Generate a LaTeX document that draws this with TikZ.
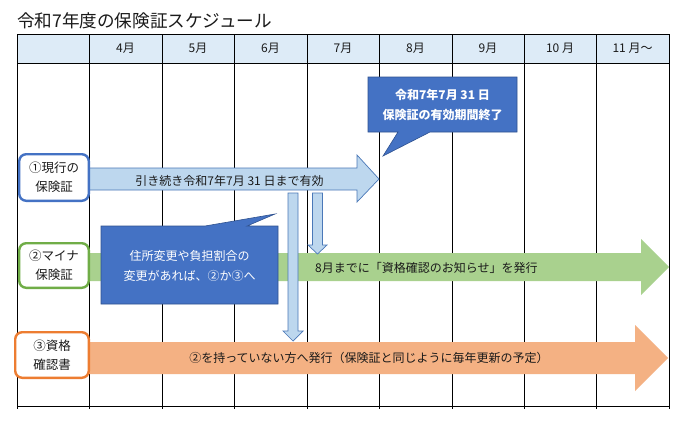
\documentclass[tikz,border=0pt]{standalone}
\usepackage{fontspec}
\setmainfont{Noto Sans CJK JP}
\definecolor{hdr}{HTML}{DDEBF7}
\definecolor{ltfill}{HTML}{BDD7EE}
\definecolor{ltline}{HTML}{4A78B8}
\definecolor{calfill}{HTML}{4472C4}
\definecolor{calline}{HTML}{2F528F}
\definecolor{grfill}{HTML}{A9D18E}
\definecolor{orfill}{HTML}{F4B183}
\definecolor{bluebd}{HTML}{4472C4}
\definecolor{greenbd}{HTML}{70AD47}
\definecolor{orangebd}{HTML}{ED7D31}
\definecolor{txtc}{HTML}{1A1A1A}
\begin{document}
\begin{tikzpicture}[x=1pt,y=-1pt,
  gridline/.style={line width=0.9pt,draw=black},
  txt/.style={inner sep=0pt,text=txtc,font=\fontsize{12}{19}\selectfont,align=center},
  month/.style={inner sep=0pt,text=txtc,font=\fontsize{12}{13}\selectfont},
  lbl/.style={draw,line width=2.4pt,rounded corners=7pt,fill=white,inner sep=0pt,align=center,text=txtc,font=\fontsize{12.5}{19}\selectfont},
  callout/.style={fill=calfill,draw=calline,line width=0.6pt},
  caltext/.style={inner sep=0pt,text=white,align=center,font=\fontsize{12}{19.5}\selectfont},
  ltarrow/.style={fill=ltfill,draw=ltline,line width=0.7pt},
]
\useasboundingbox (0,0) rectangle (690,424);
\fill[white] (0,0) rectangle (690,424);
% title
\node[anchor=west,inner sep=0pt,text=txtc,font=\fontsize{17.6}{20}\selectfont] (title) at (17,20.5) {令和7年度の保険証スケジュール};
% table
\fill[hdr] (17,34) rectangle (669,63);
\foreach \x in {17,89,162,234,307,379,452,524,596,669} \draw[gridline] (\x,34) -- (\x,409);
\draw[gridline] (17,34) -- (669,34);
\draw[gridline] (17,63) -- (669,63);
\draw[gridline] (17,406) -- (669,406);
\node[month] (m4) at (125.5,48) {4月};
\node[month] (m5) at (198,48) {5月};
\node[month] (m6) at (270.5,48) {6月};
\node[month] (m7) at (343,48) {7月};
\node[month] (m8) at (415.5,48) {8月};
\node[month] (m9) at (488,48) {9月};
\node[month] (m10) at (560,48) {10 月};
\node[month] (m11) at (632.5,48) {11 月～};
% light blue arrow (current insurance card)
\draw[ltarrow] (85,168) -- (357,168) -- (357,155) -- (379,179) -- (357,202) -- (357,190) -- (85,190) -- cycle;
\node[txt] (t1) at (229.5,180.5) {引き続き令和7年7月 31 日まで有効};
% green arrow
\fill[grfill] (85,253) -- (641,253) -- (641,239) -- (669,267) -- (641,295) -- (641,281) -- (85,281) -- cycle;
\node[txt,anchor=west] (t2) at (315,267.5) {8月までに「資格確認のお知らせ」を発行};
% orange arrow
\fill[orfill] (85,342) -- (635,342) -- (635,325) -- (668,358) -- (635,391) -- (635,374) -- (85,374) -- cycle;
\node[txt] (t3) at (369,358) {②を持っていない方へ発行（保険証と同じように毎年更新の予定）};
% down arrows
\draw[ltarrow] (288,193) -- (298,193) -- (298,331) -- (303,331) -- (293,341) -- (283,331) -- (288,331) -- cycle;
\draw[ltarrow] (312.5,193) -- (322.5,193) -- (322.5,245) -- (327,245) -- (317.5,254) -- (308,245) -- (312.5,245) -- cycle;
% top callout
\draw[callout] (368,77) -- (517,77) -- (517,132) -- (430,132) -- (383,156) -- (398,132) -- (368,132) -- cycle;
\node[caltext,font=\bfseries\fontsize{12}{20}\selectfont] (c1) at (442.5,105) {令和7年7月 31 日\\保険証の有効期間終了};
% lower callout
\draw[callout] (101,226) -- (205,226) -- (275,214) -- (247,226) -- (278,226) -- (278,304) -- (101,304) -- cycle;
\node[caltext] (c2) at (189.5,266) {住所変更や負担割合の\\変更があれば、②か③へ};
% row labels
\node[lbl,draw=bluebd,minimum width=69.6pt,minimum height=46.6pt] (r1) at (54,177.5) {①現行の\\保険証};
\node[lbl,draw=greenbd,minimum width=69.6pt,minimum height=44.6pt] (r2) at (54,265.5) {②マイナ\\保険証};
\node[lbl,draw=orangebd,minimum width=73.6pt,minimum height=45.6pt] (r3) at (52,355) {③資格\\確認書};
\end{tikzpicture}
\end{document}
